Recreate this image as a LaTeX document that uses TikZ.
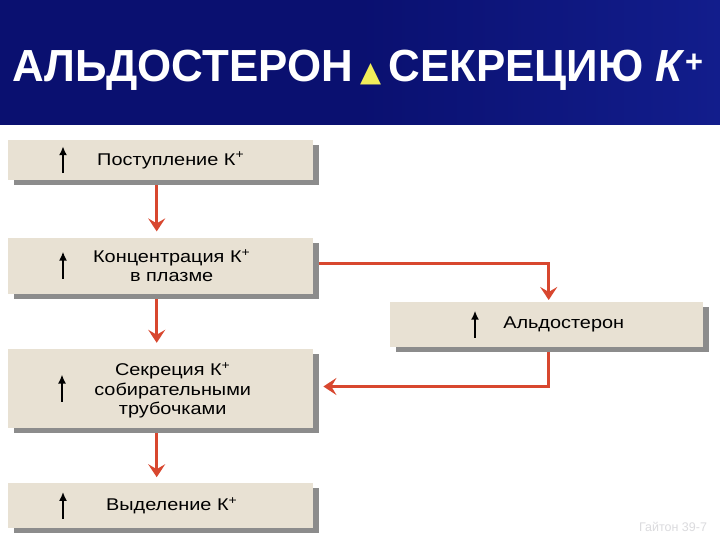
\documentclass[tikz,border=0pt]{standalone}
\usepackage{fontspec}
\setmainfont{Liberation Sans}
\newfontfamily\boxfont[FakeStretch=1.17]{Liberation Sans}
\newfontfamily\symfont{DejaVu Sans}
\usetikzlibrary{arrows.meta, positioning, calc, shadows}
\definecolor{TitleBlue}{HTML}{0A1070}
\definecolor{TitleBlueLt}{HTML}{121D8C}
\definecolor{BoxBeige}{HTML}{E8E1D3}
\definecolor{FlowRed}{HTML}{D8472F}
\definecolor{TriYellow}{HTML}{F2EE5A}

\begin{document}
\begin{tikzpicture}[
    x=1pt, y=-1pt,
    font=\boxfont\fontsize{17}{19.5}\selectfont,
    node distance=55pt,
    box/.style={
        rectangle, fill=BoxBeige, inner sep=0pt,
        minimum width=305pt,
        drop shadow={shadow xshift=6pt, shadow yshift=-5pt, fill=black!45, opacity=1}
    },
    lbl/.style={align=center, inner sep=1pt},
    flow/.style={draw=FlowRed, line width=3pt, -{Stealth[length=13pt,width=17pt,inset=5pt]}},
    uparrow/.style={draw=black, line width=2.2pt, -{Latex[length=9pt,width=8pt]}},
    title/.style={text=white, font=\fontsize{45}{48}\selectfont\bfseries}
]
    % background and title bar
    \useasboundingbox (0,0) rectangle (720,540);
    \fill[white] (0,0) rectangle (720,540);
    \shade[left color=TitleBlue, right color=TitleBlueLt, middle color=TitleBlue] (0,0) rectangle (720,125);
    \node[title] (ttl) at (358,70) {\scalebox{0.975}[1]{АЛЬДОСТЕРОН\,{\color{TriYellow}\symfont\fontsize{28}{28}\selectfont▲}\,СЕКРЕЦИЮ \textit{К}\textsuperscript{+}}};

    % Boxes (left column)
    \node[box, minimum height=40pt, anchor=north west] (intake) at (8,140) {};
    \node[box, minimum height=56pt] (plasma) [below=57pt of intake] {};
    \node[box, minimum height=79pt] (secr) [below=of plasma] {};
    \node[box, minimum height=45pt] (excr) [below=of secr] {};
    \node[box, minimum height=45pt, minimum width=313pt, anchor=north west] (aldo) at (390,302) {};

    % Texts
    \node[lbl] at ([xshift=10pt]intake.center) {Поступление К\textsuperscript{+}};
    \node[lbl] at ([xshift=11pt]plasma.center) {Концентрация К\textsuperscript{+}\\в плазме};
    \node[lbl] at ([xshift=12pt,yshift=-2pt]secr.center) {Секреция К\textsuperscript{+}\\собирательными\\трубочками};
    \node[lbl] at ([xshift=11pt]excr.center) {Выделение К\textsuperscript{+}};
    \node[lbl] at ([xshift=17pt]aldo.center) {Альдостерон};

    % Up arrows in boxes
    \foreach \b/\dx in {intake/55, plasma/55, secr/54, excr/55, aldo/85}
        \draw[uparrow] ([xshift=\dx pt, yshift=-13pt]\b.west) -- ++(0,-27);

    % Flow arrows
    \path[flow, shorten >=6pt] ([xshift=-4pt,yshift=-5pt]intake.south) -- ([xshift=-4pt]plasma.north);
    \path[flow, shorten >=6pt] ([xshift=-4pt,yshift=-5pt]plasma.south) -- ([xshift=-4pt]secr.north);
    \path[flow, shorten >=6pt] ([xshift=-4pt,yshift=-5pt]secr.south) -- ([xshift=-4pt]excr.north);
    \path[flow, shorten >=2pt] ([xshift=6pt,yshift=2pt]plasma.east) -| ([xshift=2pt]aldo.north);
    \path[flow, shorten >=4pt] ([xshift=2pt,yshift=-5pt]aldo.south) |- ([xshift=6pt,yshift=2pt]secr.east);

    % source
    \node[text=blue!8!black!14, font=\fontsize{12.5}{13}\selectfont] (src) at (673,527) {Гайтон 39-7};
\end{tikzpicture}
\end{document}
